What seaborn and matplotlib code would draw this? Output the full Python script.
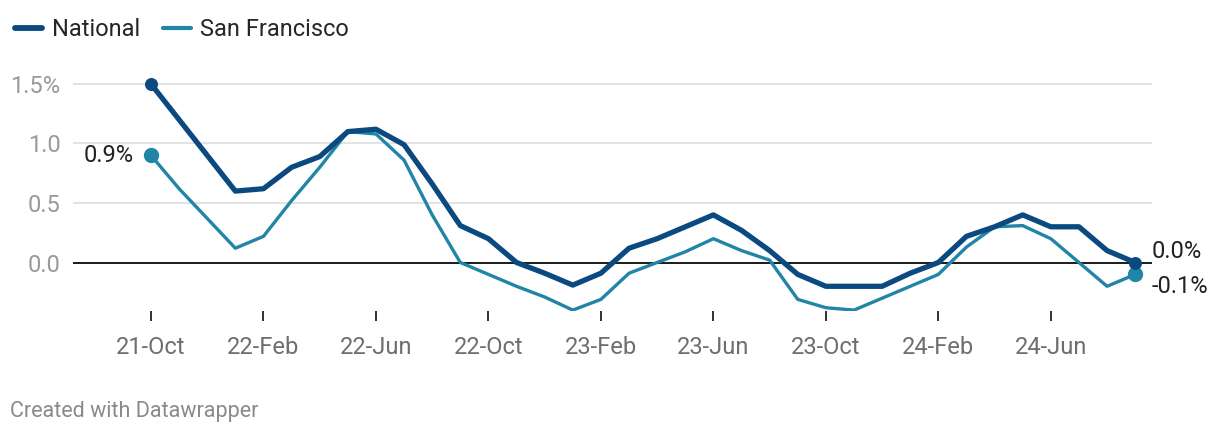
import matplotlib.pyplot as plt
import seaborn as sns
import pandas as pd
import numpy as np

# monthly readings, Oct 2021 - Sep 2024
months = pd.date_range("2021-10-01", periods=36, freq="MS")
national = [1.5, 1.2, 0.9, 0.6, 0.62, 0.8, 0.89, 1.1, 1.12, 0.99, 0.66, 0.31,
            0.2, 0.0, -0.09, -0.19, -0.09, 0.12, 0.2, 0.3, 0.4, 0.27, 0.1, -0.1,
            -0.2, -0.2, -0.2, -0.09, 0.0, 0.22, 0.3, 0.4, 0.3, 0.3, 0.1, 0.0]
san_francisco = [0.9, 0.62, 0.37, 0.12, 0.22, 0.52, 0.8, 1.1, 1.08, 0.86, 0.4, 0.0,
                 -0.1, -0.2, -0.29, -0.4, -0.31, -0.09, 0.0, 0.09, 0.2, 0.1, 0.02, -0.31,
                 -0.38, -0.4, -0.3, -0.2, -0.1, 0.13, 0.3, 0.31, 0.2, 0.0, -0.2, -0.1]
tick_labels = ["21-Oct", "22-Feb", "22-Jun", "22-Oct", "23-Feb", "23-Jun", "23-Oct", "24-Feb", "24-Jun"]
y_ticks = [0.0, 0.5, 1.0, 1.5]
y_labels = ["0.0", "0.5", "1.0", "1.5%"]

df = pd.DataFrame({"month": np.arange(len(months)), "National": national, "San Francisco": san_francisco})
long = df.melt(id_vars="month", var_name="series", value_name="value")

sns.set_style("white")
plt.rcParams['font.family'] = ['Roboto', 'DejaVu Sans']

c_nat = "#0b4a80"
c_sf = "#2085a6"
fs = 17

fig = plt.figure(figsize=(12.2, 4.38), dpi=100)
ax = fig.add_axes([73 / 1220, 1 - 311 / 438, (1152 - 73) / 1220, (311 - 78) / 438])

for y in y_ticks[1:]:
    ax.axhline(y, color="#e3e3e3", lw=1.4, zorder=0)
ax.axhline(0, color="#1a1a1a", lw=1.4, zorder=1)

sns.lineplot(data=long, x="month", y="value", hue="series",
             palette={"National": c_nat, "San Francisco": c_sf},
             hue_order=["National", "San Francisco"], ax=ax, legend=False,
             solid_capstyle="round", solid_joinstyle="round", zorder=3)
lines = ax.get_lines()[-2:]
lines[0].set_linewidth(3.8)
lines[1].set_linewidth(2.4)
lines[1].set_zorder(2)

# end dots
first, last = df.iloc[0], df.iloc[-1]
ax.scatter([first.month, last.month], [first["National"], last["National"]], s=70, color=c_nat, zorder=5, clip_on=False)
ax.scatter([first.month, last.month], [first["San Francisco"], last["San Francisco"]], s=100, color=c_sf, zorder=4, clip_on=False)

ax.text(first.month - 0.6, first["San Francisco"], f"{first['San Francisco']:.1f}%", ha="right", va="center",
        fontsize=fs, color="#222222")
ax.text(last.month + 0.6, last["National"] + 0.09, f"{last['National']:.1f}%", ha="left", va="center",
        fontsize=fs, color="#222222")
ax.text(last.month + 0.6, last["San Francisco"] - 0.1, f"{last['San Francisco']:.1f}%", ha="left", va="center",
        fontsize=fs, color="#222222")

ax.set_xlim((73 - 151) / 28.12, (1152 - 151) / 28.12)
ax.set_ylim(-(311 - 262.5) / 119, 1.5 + (84 - 78) / 119)
ax.set_xticks(np.arange(0, 36, 4))
ax.set_xticklabels(tick_labels)
ax.set_yticks(y_ticks)
ax.set_yticklabels(y_labels)
ax.tick_params(axis="x", bottom=True, length=7, width=1.3, color="#222222", pad=11,
               labelsize=fs, labelcolor="#6e6e6e")
ax.tick_params(axis="y", left=False, pad=5.5, labelsize=fs, labelcolor="#9a9a9a")
for t in ax.get_yticklabels():
    t.set_horizontalalignment("right")
for s in ax.spines.values():
    s.set_visible(False)
ax.set_xlabel("")
ax.set_ylabel("")

handles = [plt.Line2D([], [], color=c_nat, lw=4.2, solid_capstyle="round"),
           plt.Line2D([], [], color=c_sf, lw=3.0, solid_capstyle="round")]
fig.legend(handles, ["National", "San Francisco"], loc="center left", bbox_to_anchor=(8 / 1220, 1 - 30 / 438),
           ncol=2, frameon=False, fontsize=fs, handlelength=1.15, handletextpad=0.4, columnspacing=1.0,
           borderaxespad=0, borderpad=0.3)

fig.text(10 / 1220, 1 - 412 / 438, "Created with Datawrapper", fontsize=15.5, color="#8a8a8a", va="center")

fig.savefig("out.png", dpi=100)
